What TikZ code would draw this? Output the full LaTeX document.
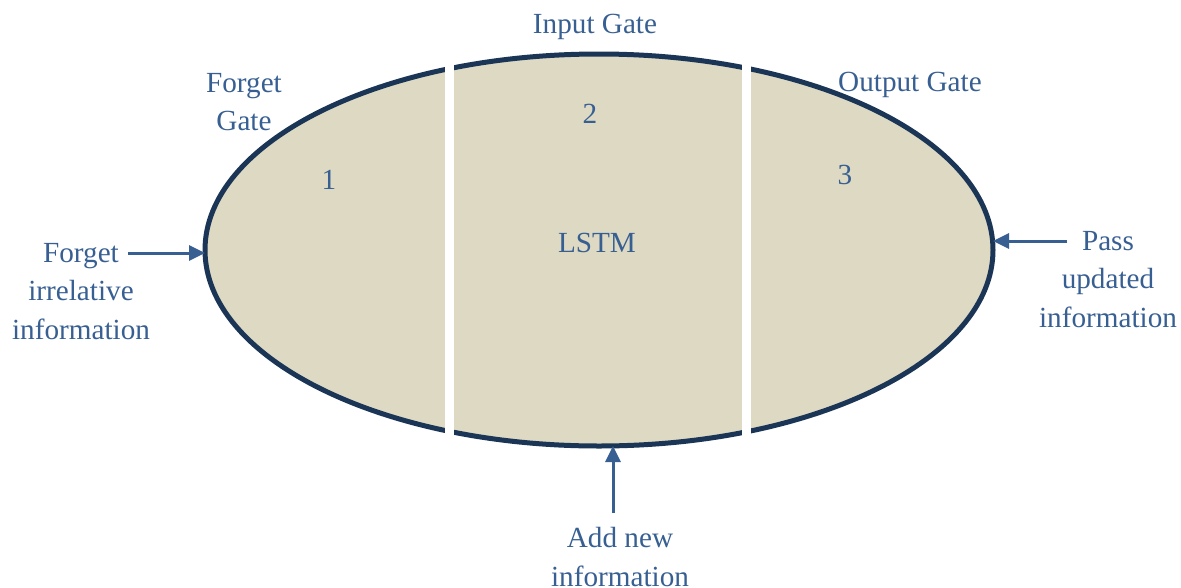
\documentclass[tikz,border=0pt]{standalone}
\usepackage{fontspec}
\setmainfont{Liberation Serif}
\usetikzlibrary{arrows.meta,shapes.geometric}
\definecolor{txtblue}{HTML}{375F92}
\definecolor{rimnavy}{HTML}{1A3555}
\definecolor{cellfill}{HTML}{DDD9C3}
\tikzset{
  lbl/.style={text=txtblue, font=\fontsize{29.2}{38.5}\selectfont, align=center, inner sep=0pt},
  flow/.style={draw=txtblue, line width=3pt, -{Triangle[length=16pt,width=15pt]}},
  cell/.style={ellipse, draw=rimnavy, fill=cellfill, line width=5pt,
    minimum width=788pt, minimum height=392pt, inner sep=0pt, outer sep=0pt},
  gap/.style={fill=white, draw=none},
}
\begin{document}
\begin{tikzpicture}[x=1pt,y=-1pt]
\useasboundingbox (0,0) rectangle (1181,587);
% the cell body
\node[cell] (lstm) at (599,250) {};
% white cuts splitting the cell into three gates
\fill[gap] (445,35) rectangle (454,465);
\fill[gap] (742,35) rectangle (751,465);
% labels inside the cell
\node[lbl] (n1) at (329,180) {1};
\node[lbl] (n2) at (590,114) {2};
\node[lbl] (n3) at (845,175) {3};
\node[lbl] (core) at (597,243) {LSTM};
% gate names
\node[lbl] (ingate) at (595,27) {Input Gate};
\node[lbl] (fgate) at (244,102) {Forget\\Gate};
\node[lbl] (ogate) at (910,85) {Output Gate};
% inputs and outputs
\node[lbl] (forget) at (81,291.5) {Forget\\irrelative\\information};
\node[lbl] (pass) at (1108,279.5) {Pass\\updated\\information};
\node[lbl] (add) at (620,557) {Add new\\information};
\coordinate (fa) at (128,253);
\coordinate (pa) at (1067,241);
\coordinate (aa) at (613,513);
\draw[flow] (fa) -- (fa -| lstm.west);
\draw[flow] (pa) -- (pa -| lstm.east);
\draw[flow] (aa) -- (aa |- lstm.south);
\end{tikzpicture}
\end{document}
